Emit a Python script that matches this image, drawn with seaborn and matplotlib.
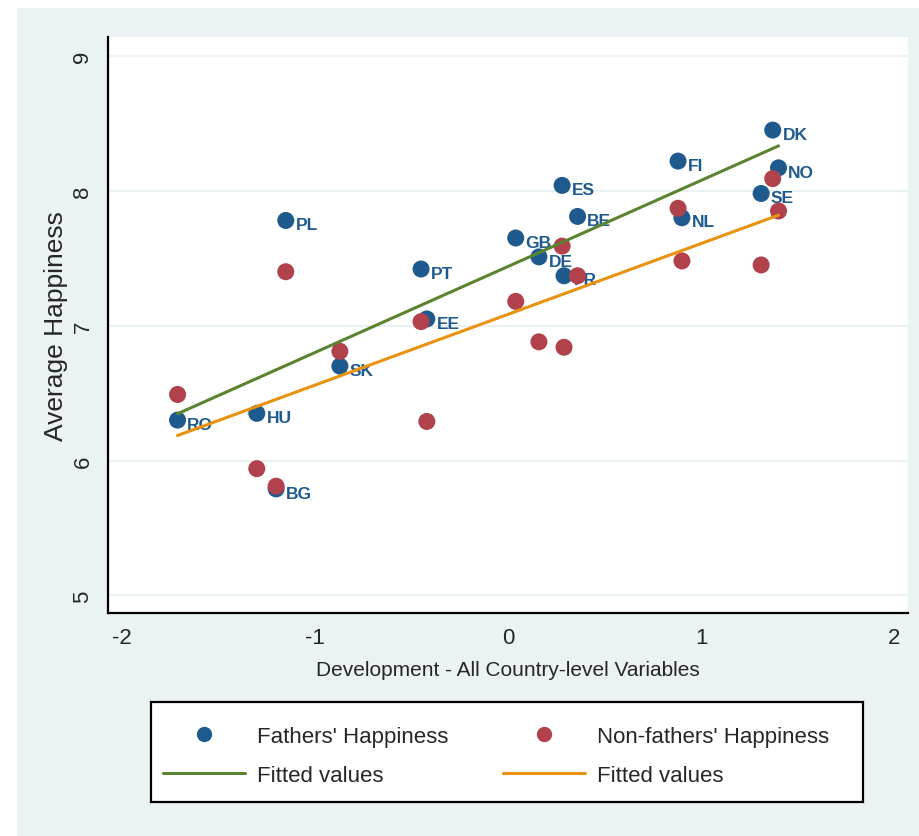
import numpy as np
import pandas as pd
import matplotlib
matplotlib.use('Agg')
import matplotlib.pyplot as plt
from matplotlib import font_manager
from matplotlib.lines import Line2D
from matplotlib.patches import Rectangle
import seaborn as sns

# 국가별 값
countries = ['RO', 'HU', 'BG', 'PL', 'SK', 'PT', 'EE', 'GB', 'DE',
             'ES', 'FR', 'BE', 'FI', 'NL', 'SE', 'DK', 'NO']
development = [-1.71, -1.30, -1.20, -1.15, -0.87, -0.45, -0.42, 0.04, 0.16,
               0.28, 0.29, 0.36, 0.88, 0.90, 1.31, 1.37, 1.40]
fathers = [6.30, 6.35, 5.79, 7.78, 6.70, 7.42, 7.05, 7.65, 7.51,
           8.04, 7.37, 7.81, 8.22, 7.80, 7.98, 8.45, 8.17]
non_fathers = [6.49, 5.94, 5.81, 7.40, 6.81, 7.03, 6.29, 7.18, 6.88,
               7.59, 6.84, 7.37, 7.87, 7.48, 7.45, 8.09, 7.85]

df = pd.DataFrame({'country': countries, 'dev': development,
                   'fathers': fathers, 'non_fathers': non_fathers})

blue = '#1f5a8e'
red = '#b1414b'
green = '#5b832f'
orange = '#e8920f'
bg = '#eaf2f3'

sns.set_style('white')

# 좁은 글꼴이 있으면 사용
installed = {f.name for f in font_manager.fontManager.ttflist}
if 'Liberation Sans Narrow' in installed:
    narrow = ['Liberation Sans Narrow', 'DejaVu Sans']
    hsize = 17
else:
    narrow = ['Liberation Sans', 'DejaVu Sans']
    hsize = 15
regular = ['Liberation Sans', 'DejaVu Sans']
plt.rcParams['font.family'] = narrow
plt.rcParams['axes.unicode_minus'] = False

fig = plt.figure(figsize=(9.2, 8.37), dpi=100)
fig.patch.set_facecolor('white')
fig.patches.append(Rectangle((17 / 920, 0), 1, 1 - 9 / 837, transform=fig.transFigure,
                             facecolor=bg, edgecolor='none', zorder=-10))
ax = fig.add_axes([108 / 920, 1 - 614 / 837, (908 - 108) / 920, (614 - 38) / 837])
ax.set_facecolor('white')

# 아버지 점과 국가 라벨
sns.scatterplot(data=df, x='dev', y='fathers', color=blue, s=150,
                edgecolor='none', ax=ax, zorder=3, legend=False)
for _, r in df.iterrows():
    ax.annotate(r['country'], (r['dev'], r['fathers']), xytext=(7, -3),
                textcoords='offset points', ha='left', va='center',
                color=blue, fontsize=12.5, fontweight='bold', zorder=3.5)

# 비아버지 점
sns.scatterplot(data=df, x='dev', y='non_fathers', color=red, s=150,
                edgecolor='none', ax=ax, zorder=4, legend=False)

# 적합선
sns.regplot(data=df, x='dev', y='fathers', scatter=False, ci=None, ax=ax,
            line_kws={'color': green, 'lw': 2.2, 'zorder': 5})
sns.regplot(data=df, x='dev', y='non_fathers', scatter=False, ci=None, ax=ax,
            line_kws={'color': orange, 'lw': 2.2, 'zorder': 5})

ax.set_xlim(-2.07, 2.07)
ax.set_ylim(4.87, 9.14)
ax.set_xticks([-2, -1, 0, 1, 2])
ax.set_yticks([5, 6, 7, 8, 9])
ax.yaxis.grid(True, color=bg, lw=1.5)
ax.set_axisbelow(True)
for s in ['top', 'right']:
    ax.spines[s].set_visible(False)
for s in ['left', 'bottom']:
    ax.spines[s].set_color('black')
    ax.spines[s].set_linewidth(1.6)
ax.tick_params(axis='both', direction='out', length=7, width=1.5, color='black')
ax.tick_params(axis='x', labelsize=hsize + 1, pad=3)
for t in ax.get_yticklabels():
    t.set_rotation(90)
    t.set_va('center')
    t.set_family(regular)
    t.set_fontsize(16)

ax.set_xlabel('Development - All Country-level Variables', fontsize=hsize, labelpad=9)
ax.set_ylabel('Average Happiness', fontsize=19, family=regular, labelpad=3)

# 범례: 상자 + 두 개의 열
fig.patches.append(Rectangle((151 / 920, 1 - 803 / 837), (863 - 151) / 920, 100 / 837,
                             transform=fig.transFigure, facecolor='white',
                             edgecolor='black', lw=1.6, zorder=1))
leg_kw = dict(loc='upper left', frameon=False, fontsize=hsize + 1, handlelength=3.7,
              handletextpad=0.55, borderpad=0, borderaxespad=0, labelspacing=0.8)
leg1 = fig.legend([Line2D([], [], marker='o', color=blue, ls='none', markersize=10),
                   Line2D([], [], color=green, lw=2.2)],
                  ["Fathers' Happiness", 'Fitted values'],
                  bbox_to_anchor=(163 / 920, 1 - 727 / 837), **leg_kw)
leg2 = fig.legend([Line2D([], [], marker='o', color=red, ls='none', markersize=10),
                   Line2D([], [], color=orange, lw=2.2)],
                  ["Non-fathers' Happiness", 'Fitted values'],
                  bbox_to_anchor=(503 / 920, 1 - 727 / 837), **leg_kw)
leg1.set_zorder(2)
leg2.set_zorder(2)

fig.savefig('out.png', dpi=100, facecolor=fig.get_facecolor())
